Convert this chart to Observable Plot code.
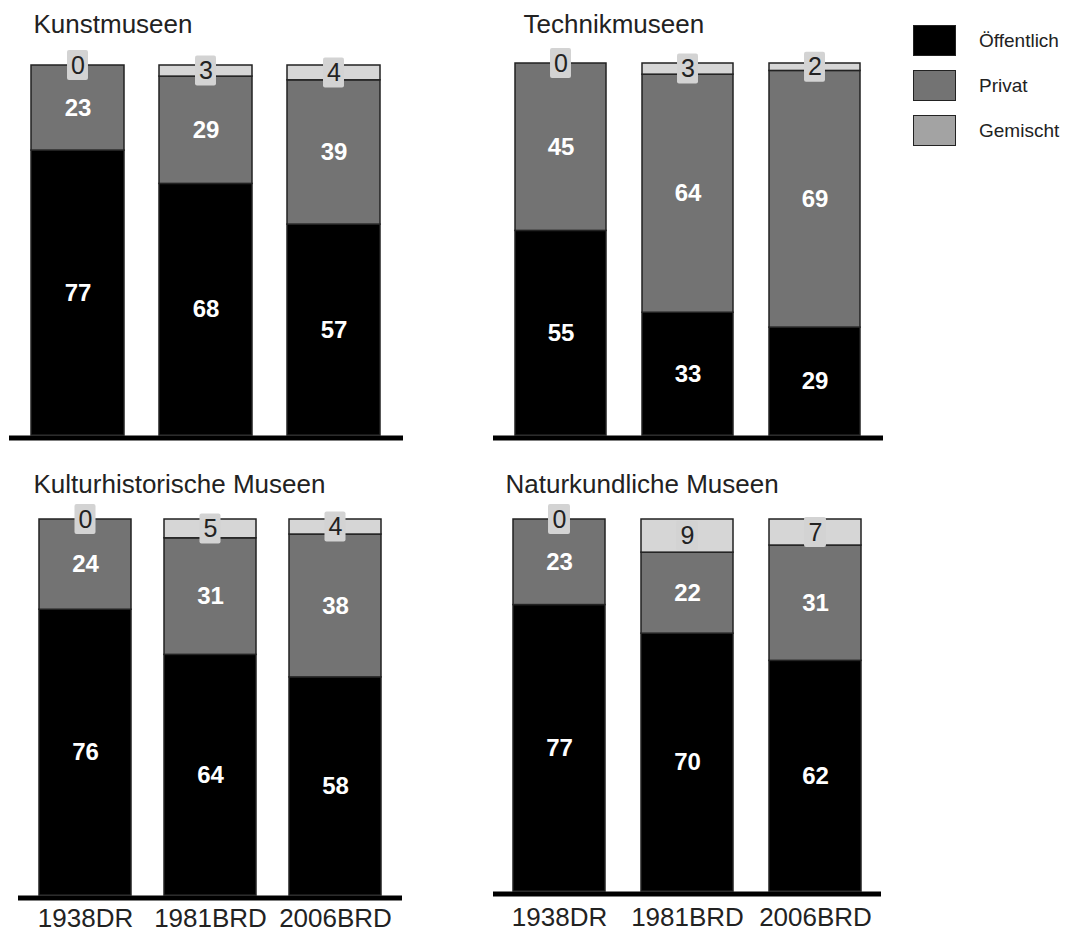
<!DOCTYPE html>
<html>
<head>
<meta charset="utf-8">
<script src="https://cdn.jsdelivr.net/npm/d3@7"></script>
<script src="https://cdn.jsdelivr.net/npm/@observablehq/plot@0.6"></script>
<style>
  body { margin: 0; background: #fff; font-family: "Liberation Sans", Arial, sans-serif; }
  #chart { position: relative; width: 1067px; height: 940px; overflow: hidden; }
  .panel { position: absolute; }
  #legend { position: absolute; left: 913px; top: 25px; }
  .item { display: flex; align-items: center; height: 31px; margin-bottom: 14px; }
  .swatch { width: 41px; height: 29px; border: 1.5px solid #222; box-sizing: content-box; }
  .item span { margin-left: 23px; font-size: 19px; color: #222; }
</style>
</head>
<body>
<div id="chart"></div>
<script>
// Share of museums by ownership (%), per museum type and survey year
const periods = ["1938DR", "1981BRD", "2006BRD"];
const types = ["Öffentlich", "Privat", "Gemischt"];
const museums = ["Kunstmuseen", "Technikmuseen", "Kulturhistorische Museen", "Naturkundliche Museen"];

// values in museum order, three periods each
const oeffentlich = [77, 68, 57, 55, 33, 29, 76, 64, 58, 77, 70, 62];
const privat      = [23, 29, 39, 45, 64, 69, 24, 31, 38, 23, 22, 31];
const gemischt    = [0, 3, 4, 0, 3, 2, 0, 5, 4, 0, 9, 7];

const barColors = ["#000000", "#737373", "#d6d6d6"];
const legendColors = ["#000000", "#737373", "#a3a3a3"];

// panel frames: placement on the page and the band layout of each small chart
const layout = [
  {left: 0,   top: 0,   height: 460, ml: 9,  mr: 17, mt: 65, mb: 25, pi: 0.271, po: 0.163, tdx: 24, tdy: -33, axis: false},
  {left: 480, top: 0,   height: 460, ml: 13, mr: 17, mt: 63, mb: 25, pi: 0.281, po: 0.164, tdx: 30, tdy: -31, axis: false},
  {left: 0,   top: 460, height: 480, ml: 18, mr: 18, mt: 59, mb: 45, pi: 0.262, po: 0.155, tdx: 15, tdy: -27, axis: true, pad: 13},
  {left: 480, top: 460, height: 480, ml: 13, mr: 19, mt: 59, mb: 49, pi: 0.281, po: 0.156, tdx: 12, tdy: -27, axis: true, pad: 16}
];

const chart = document.getElementById("chart");

museums.forEach((museum, m) => {
  const cfg = layout[m];
  const rows = [];
  periods.forEach((period, j) => {
    const k = m * 3 + j;
    const vals = [oeffentlich[k], privat[k], gemischt[k]];
    const total = d3.sum(vals);
    let acc = 0;
    vals.forEach((v, t) => {
      const y1 = acc / total;
      acc += v;
      const y2 = acc / total;
      rows.push({period, type: types[t], value: v, y1, y2, mid: (y1 + y2) / 2});
    });
  });
  const inner = rows.filter(d => d.type !== "Gemischt");
  const mixed = rows.filter(d => d.type === "Gemischt");

  const width = 420;
  const plotW = width - cfg.ml - cfg.mr;
  const step = plotW / (periods.length - cfg.pi + 2 * cfg.po);
  const bw = step * (1 - cfg.pi);
  const boxInset = (bw - 22) / 2;

  const svg = Plot.plot({
    width,
    height: cfg.height,
    marginLeft: cfg.ml,
    marginRight: cfg.mr,
    marginTop: cfg.mt,
    marginBottom: cfg.mb,
    style: {fontFamily: "'Liberation Sans', Arial, sans-serif", background: "transparent", overflow: "visible", color: "#222"},
    x: {domain: periods, paddingInner: cfg.pi, paddingOuter: cfg.po, axis: null, label: null},
    y: {domain: [0, 1], axis: null},
    color: {domain: types, range: barColors},
    marks: [
      Plot.barY(rows, {x: "period", y1: "y1", y2: "y2", fill: "type", stroke: "#222", strokeWidth: 1.5}),
      Plot.ruleY([0], {stroke: "#000", strokeWidth: 5, dy: 2.5}),
      Plot.barY(mixed, {x: "period", y1: "mid", y2: "mid", fill: "#d3d3d3", insetLeft: boxInset, insetRight: boxInset, insetTop: -15, insetBottom: -15, rx: 2}),
      Plot.text(inner, {x: "period", y: "mid", text: d => String(d.value), fill: "#fff", fontSize: 24, fontWeight: "bold"}),
      Plot.text(mixed, {x: "period", y: "mid", text: d => String(d.value), fill: "#222", fontSize: 25}),
      Plot.text([museum], {frameAnchor: "top-left", text: d => d, textAnchor: "start", lineAnchor: "bottom", dx: cfg.tdx, dy: cfg.tdy, fontSize: 26, fill: "#222"}),
      cfg.axis ? Plot.axisX({label: null, tickSize: 0, tickPadding: cfg.pad, fontSize: 26, fill: "#222"}) : null
    ]
  });
  svg.classList.add("panel");
  svg.style.left = cfg.left + "px";
  svg.style.top = cfg.top + "px";
  chart.appendChild(svg);
});

// legend
const legend = document.createElement("div");
legend.id = "legend";
types.forEach((t, i) => {
  const item = document.createElement("div");
  item.className = "item";
  const sw = document.createElement("div");
  sw.className = "swatch";
  sw.style.background = legendColors[i];
  const label = document.createElement("span");
  label.textContent = t;
  item.appendChild(sw);
  item.appendChild(label);
  legend.appendChild(item);
});
chart.appendChild(legend);
</script>
</body>
</html>
